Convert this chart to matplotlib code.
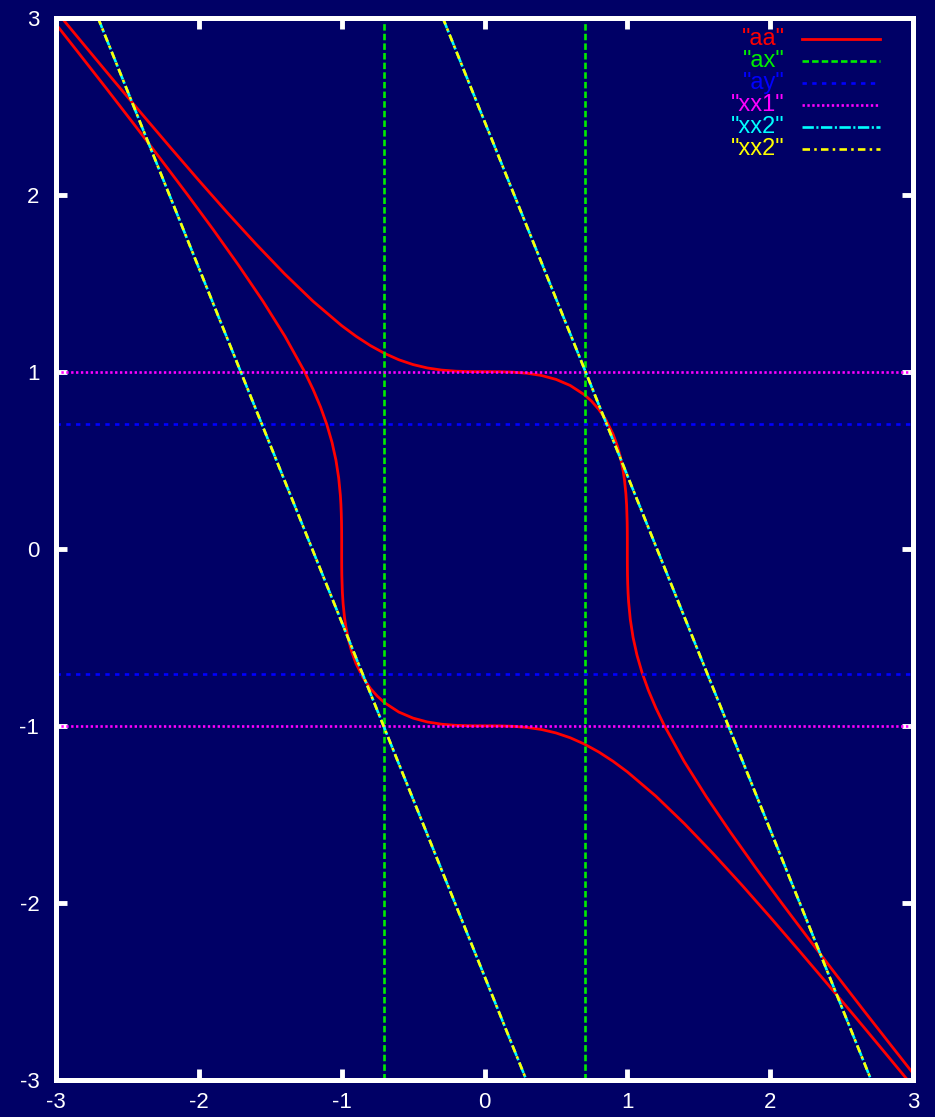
import matplotlib
matplotlib.use("Agg")
from matplotlib import pyplot as plt
import numpy as np

plt.rcParams['font.family'] = ['Liberation Sans', 'DejaVu Sans']
plt.rcParams['axes.unicode_minus'] = False

# "aa" : two branches of the red curve
aa1_x = [-2.962, -2.8, -2.6, -2.4, -2.2, -2.0, -1.8, -1.6, -1.4, -1.2, -1.0, -0.9, -0.8,
         -0.7, -0.6, -0.5, -0.4, -0.3, -0.2, -0.1, 0.0, 0.1, 0.2, 0.3, 0.4, 0.5, 0.6, 0.7,
         0.75, 0.8, 0.85, 0.9, 0.93, 0.95, 0.97, 0.98, 0.99, 0.995, 0.9989, 0.9997, 1.0,
         1.0, 1.0, 1.0003, 1.0011, 1.0027, 1.0052, 1.0089, 1.0209, 1.04, 1.0673, 1.1033,
         1.1477, 1.2002, 1.2599, 1.3973, 1.5528, 1.721, 1.8973, 2.080, 2.267, 2.4565,
         2.648, 2.842, 3.0]
aa1_y = [3.0, 2.842, 2.648, 2.4565, 2.267, 2.080, 1.8973, 1.721, 1.5528, 1.3973, 1.2599,
         1.2002, 1.1477, 1.1033, 1.0673, 1.04, 1.0209, 1.0089, 1.0027, 1.0003, 1.0,
         0.9997, 0.9973, 0.9909, 0.9782, 0.9565, 0.9221, 0.8693, 0.8329, 0.7873, 0.7281,
         0.6471, 0.5805, 0.5224, 0.4436, 0.3889, 0.3097, 0.2462, 0.15, 0.1, 0.05, 0.0,
         -0.05, -0.1, -0.15, -0.2, -0.25, -0.3, -0.4, -0.5, -0.6, -0.7, -0.8, -0.9, -1.0,
         -1.2, -1.4, -1.6, -1.8, -2.0, -2.2, -2.4, -2.6, -2.8, -2.962]
aa2_x = [2.962, 2.8, 2.6, 2.4, 2.2, 2.0, 1.8, 1.6, 1.4, 1.2, 1.0, 0.9, 0.8,
         0.7, 0.6, 0.5, 0.4, 0.3, 0.2, 0.1, 0.0, -0.1, -0.2, -0.3, -0.4, -0.5, -0.6, -0.7,
         -0.75, -0.8, -0.85, -0.9, -0.93, -0.95, -0.97, -0.98, -0.99, -0.995, -0.9989,
         -0.9997, -1.0, -1.0, -1.0, -1.0003, -1.0011, -1.0027, -1.0052, -1.0089, -1.0209,
         -1.04, -1.0673, -1.1033, -1.1477, -1.2002, -1.2599, -1.3973, -1.5528, -1.721,
         -1.8973, -2.080, -2.267, -2.4565, -2.648, -2.842, -3.0]
aa2_y = [-3.0, -2.842, -2.648, -2.4565, -2.267, -2.080, -1.8973, -1.721, -1.5528, -1.3973,
         -1.2599, -1.2002, -1.1477, -1.1033, -1.0673, -1.04, -1.0209, -1.0089, -1.0027,
         -1.0003, -1.0, -0.9997, -0.9973, -0.9909, -0.9782, -0.9565, -0.9221, -0.8693,
         -0.8329, -0.7873, -0.7281, -0.6471, -0.5805, -0.5224, -0.4436, -0.3889, -0.3097,
         -0.2462, -0.15, -0.1, -0.05, 0.0, 0.05, 0.1, 0.15, 0.2, 0.25, 0.3, 0.4, 0.5, 0.6,
         0.7, 0.8, 0.9, 1.0, 1.2, 1.4, 1.6, 1.8, 2.0, 2.2, 2.4, 2.6, 2.8, 2.962]

# "ax" vertical lines, "ay" and "xx1" horizontal lines
ax_x = [-0.7071, 0.7071]
ay_y = [-0.7071, 0.7071]
xx1_y = [-1.0, 1.0]
# "xx2" slanted lines (end points on the frame)
xx2a_x = [-0.293, 2.707]
xx2a_y = [3.0, -3.0]
xx2b_x = [-2.707, 0.293]
xx2b_y = [3.0, -3.0]

ticks = [-3, -2, -1, 0, 1, 2, 3]
labels = ['"aa"', '"ax"', '"ay"', '"xx1"', '"xx2"', '"xx2"']

bg = '#000066'
red = '#ff0000'
green = '#00ee00'
blue = '#0000ff'
magenta = '#ff00ff'
cyan = '#00ffff'
yellow = '#ffff00'

st_aa = dict(color=red, lw=2.0, linestyle='-')
st_ax = dict(color=green, lw=1.9, linestyle=(0, (2.45, 1.2)))
st_ay = dict(color=blue, lw=1.9, linestyle=(0, (1.65, 2.05)))
st_xx1 = dict(color=magenta, lw=1.9, linestyle=(0, (0.9, 0.95)))
st_xx2 = dict(color=cyan, lw=1.9, linestyle=(0, (4.3, 0.95, 0.8, 0.95)))
st_xx2y = dict(color=yellow, lw=1.9, linestyle=(0, (2.85, 1.6, 0.95, 1.6)))

fig = plt.figure(figsize=(9.35, 11.17), dpi=100, facecolor=bg)
ax = fig.add_axes([56 / 935, 37 / 1117, 857 / 935, 1062.5 / 1117])
ax.set_facecolor(bg)

ax.plot(aa1_x, aa1_y, **st_aa)
ax.plot(aa2_x, aa2_y, **st_aa)
for v in ax_x:
    ax.plot([v, v], [-3, 3], **st_ax)
for v in ay_y:
    ax.plot([-3, 3], [v, v], **st_ay)
for v in xx1_y:
    ax.plot([-3, 3], [v, v], **st_xx1)
ax.plot(xx2a_x, xx2a_y, **st_xx2)
ax.plot(xx2b_x, xx2b_y, **st_xx2)
ax.plot(xx2a_x, xx2a_y, **st_xx2y)
ax.plot(xx2b_x, xx2b_y, **st_xx2y)

ax.set_xlim(-3, 3)
ax.set_ylim(-3, 3)
ax.set_xticks(ticks)
ax.set_yticks(ticks)
ax.tick_params(direction='in', length=8, width=3.5, color='white', labelcolor='white',
               labelsize=16, top=True, right=True)
ax.tick_params(axis='x', pad=9)
ax.tick_params(axis='y', pad=12)
for s in ax.spines.values():
    s.set_color('white')
    s.set_linewidth(3.6)
    s.set_zorder(5)

# legend drawn by hand, gnuplot style
styles = [st_aa, st_ax, st_ay, st_xx1, st_xx2, st_xx2y]
for i, (lab, st) in enumerate(zip(labels, styles)):
    yp = 1 - (39 + 22 * i) / 1117
    fig.text(785 / 935, yp, lab, color=st['color'], fontsize=17, ha='right', va='center')
    fig.add_artist(plt.Line2D([802 / 935, 880 / 935], [yp, yp], transform=fig.transFigure,
                              **st))

plt.savefig('out.png', dpi=100, facecolor=bg)
